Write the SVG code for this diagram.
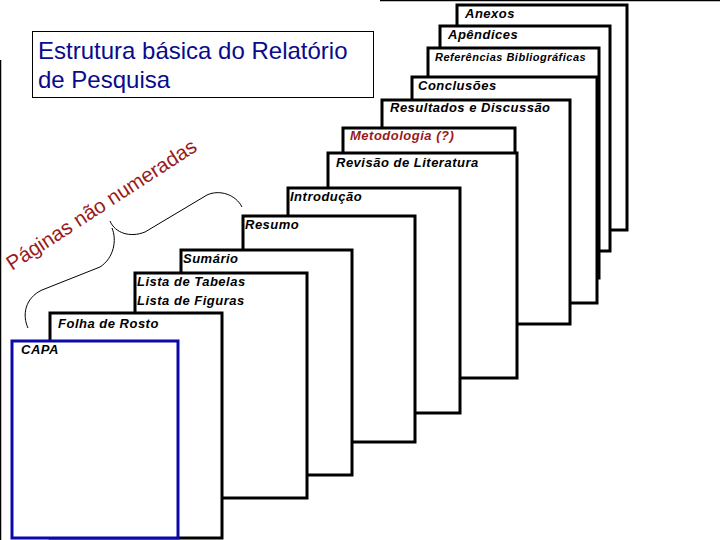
<svg xmlns="http://www.w3.org/2000/svg" width="720" height="540" viewBox="0 0 720 540">
<style>
.pg{fill:#fff;stroke:#000;stroke-width:3}
.cap{fill:#fff;stroke:#0a0aa8;stroke-width:3}
.lb{font-family:"Liberation Sans",Arial,sans-serif;font-size:13px;font-style:italic;font-weight:bold;letter-spacing:0.5px;fill:#000}
.sm{font-size:11px}
.red{fill:#9a1a1a}
.br{fill:none;stroke:#000;stroke-width:1}
.ttl{font-family:"Liberation Sans",Arial,sans-serif;font-size:24px;fill:#0a0a8c}
</style>
<rect width="720" height="540" fill="#fff"/>
<g id="frame">
<line x1="380" y1="0.5" x2="720" y2="0.5" stroke="#000" stroke-width="1.5"/>
<line x1="0.5" y1="60" x2="0.5" y2="540" stroke="#000" stroke-width="1.5"/>
</g>
<g id="title">
<rect x="32.5" y="31.5" width="341" height="66" fill="#fff" stroke="#000" stroke-width="1"/>
<text class="ttl" x="38" y="59">Estrutura básica do Relatório</text>
<text class="ttl" x="38" y="88">de Pesquisa</text>
</g>
<g id="anexos"><rect class="pg" x="457" y="5" width="170" height="225"/><text class="lb" x="465" y="18">Anexos</text></g>
<g id="apendices"><rect class="pg" x="440" y="26" width="170" height="225"/><text class="lb" x="448" y="39">Apêndices</text></g>
<g id="referencias"><rect class="pg" x="428" y="48" width="171" height="230"/><text class="lb sm" x="435" y="61">Referências Bibliográficas</text></g>
<g id="conclusoes"><rect class="pg" x="412" y="77" width="185" height="226"/><text class="lb" x="418" y="90">Conclusões</text></g>
<g id="resultados"><rect class="pg" x="382" y="100" width="188" height="224"/><text class="lb" x="390" y="112">Resultados e Discussão</text></g>
<g id="metodologia"><rect class="pg" x="343" y="128" width="172" height="225"/><text class="lb red" x="350" y="140">Metodologia (?)</text></g>
<g id="revisao"><rect class="pg" x="328" y="153" width="189" height="225"/><text class="lb" x="336" y="167">Revisão de Literatura</text></g>
<g id="introducao"><rect class="pg" x="288" y="188" width="172" height="225"/><text class="lb" x="290" y="201">Introdução</text></g>
<g id="resumo"><rect class="pg" x="243" y="216" width="172" height="226"/><text class="lb" x="245" y="229">Resumo</text></g>
<g id="sumario"><rect class="pg" x="181" y="250" width="171" height="225"/><text class="lb" x="183" y="263">Sumário</text></g>
<g id="listas"><rect class="pg" x="135" y="273" width="172" height="225"/><text class="lb" x="137" y="286">Lista de Tabelas</text><text class="lb" x="137" y="305">Lista de Figuras</text></g>
<g id="folha"><rect class="pg" x="50" y="313" width="172" height="225"/><text class="lb" x="58" y="328">Folha de Rosto</text></g>
<g id="capa"><rect class="cap" x="12" y="341" width="166" height="197"/><text class="lb" x="21" y="354">CAPA</text></g>
<g id="nota">
<text x="12" y="271" transform="rotate(-33 12 271)" font-family="Liberation Sans, Arial, sans-serif" font-size="20.5" fill="#9a1a1a">Páginas não numeradas</text>
</g>
<g id="connectors">
<path class="br" d="M110,221 C115,233 130,238 145,232 L207,195 C220,189 236,195 242,207"/>
<path class="br" d="M112,228 C117,240 114,258 100,267 L42,290 C25,298 22,315 28,328"/>
</g>
</svg>
